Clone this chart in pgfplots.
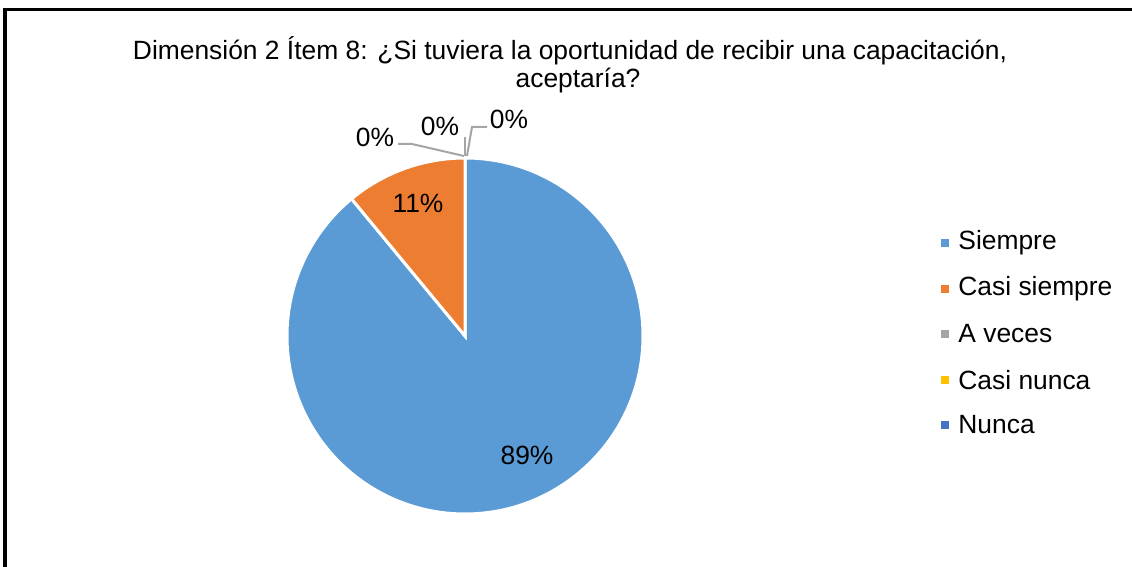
\documentclass[border=0pt]{standalone}
\usepackage{pgfplots}
\usepackage{pgfplotstable}
\pgfplotsset{compat=1.18}
\usepackage{fontspec}
\setmainfont{Liberation Sans}
\definecolor{cA}{HTML}{5B9BD5}
\definecolor{cB}{HTML}{ED7D31}
\definecolor{cC}{HTML}{A5A5A5}
\definecolor{cD}{HTML}{FFC000}
\definecolor{cE}{HTML}{4472C4}
\definecolor{lead}{HTML}{A5A5A5}
\pgfplotstableread{
value
89
11
0
0
0
}\piedata
\pgfplotstablegetelem{0}{value}\of\piedata \let\vA\pgfplotsretval
\pgfplotstablegetelem{1}{value}\of\piedata \let\vB\pgfplotsretval
\pgfmathsetmacro{\aA}{90-3.6*\vA}
\pgfmathsetmacro{\aB}{\aA-3.6*\vB}
\def\cx{465}\def\cy{231}\def\R{178}
\newcommand\legitem[3]{%
  \fill[#1] (axis cs:941,#3-4) rectangle (axis cs:949,#3+4);
  \node[font=\lf, anchor=west, inner sep=0pt] at (axis cs:958,#3) {#2};}
\def\lf{\fontsize{13.2}{15}\selectfont}
\def\tf{\fontsize{13.2}{15}\selectfont}
\begin{document}
\begin{tikzpicture}
\begin{axis}[
  width=566pt, height=283.5pt, scale only axis,
  xmin=0, xmax=1132, ymin=0, ymax=567,
  hide axis, clip=false,
]
% border
\draw[black, line width=1.5pt] (axis cs:5,0) -- (axis cs:5,557) -- (axis cs:1132,557);
% title
\node[font=\tf, anchor=center] at (axis cs:570,516) {Dimensión 2 Ítem 8: ¿Si tuviera la oportunidad de recibir una capacitación,};
\node[font=\tf, anchor=center] at (axis cs:578,486) {aceptaría?};
% wedges
\fill[cA, draw=white, line width=1.5pt] (axis cs:\cx,\cy) -- (axis cs:{\cx+\R*cos(90)},{\cy+\R*sin(90)}) arc[start angle=90, end angle=\aA, radius=\R] -- cycle;
\fill[cB, draw=white, line width=1.5pt] (axis cs:\cx,\cy) -- (axis cs:{\cx+\R*cos(\aA)},{\cy+\R*sin(\aA)}) arc[start angle=\aA, end angle=\aB, radius=\R] -- cycle;
% leader lines
\draw[lead, line width=1pt] (axis cs:398,423) -- (axis cs:412,423) -- (axis cs:464,411);
\draw[lead, line width=1pt] (axis cs:465,411) -- (axis cs:465,430);
\draw[lead, line width=1pt] (axis cs:487,440) -- (axis cs:472,440) -- (axis cs:467,411);
% data labels
\node[font=\lf] at (axis cs:527,112) {89\%};
\node[font=\lf] at (axis cs:418,364) {11\%};
\node[font=\lf] at (axis cs:375,430) {0\%};
\node[font=\lf] at (axis cs:440,441) {0\%};
\node[font=\lf] at (axis cs:509,448) {0\%};
% legend
\legitem{cA}{Siempre}{324}
\legitem{cB}{Casi siempre}{278}
\legitem{cC}{A veces}{233}
\legitem{cD}{Casi nunca}{187}
\legitem{cE}{Nunca}{142}
\end{axis}
\pgfresetboundingbox
\useasboundingbox (0,0) rectangle (566pt,283.5pt);
\end{tikzpicture}
\end{document}
